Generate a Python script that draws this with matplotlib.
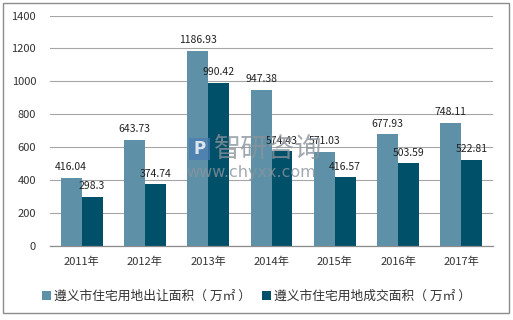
import matplotlib
matplotlib.use("Agg")
import matplotlib.pyplot as plt
import numpy as np
from matplotlib.patches import Rectangle

plt.rcParams['font.family'] = ['Noto Sans CJK SC', 'DejaVu Sans']

years = ["2011年", "2012年", "2013年", "2014年", "2015年", "2016年", "2017年"]
supply = [416.04, 643.73, 1186.93, 947.38, 571.03, 677.93, 748.11]
deal = [298.3, 374.74, 990.42, 574.43, 416.57, 503.59, 522.81]
series_names = ["遵义市住宅用地出让面积（ 万㎡ ）", "遵义市住宅用地成交面积（ 万㎡ ）"]
yticks = [0, 200, 400, 600, 800, 1000, 1200, 1400]

c_light = "#5E91A8"
c_dark = "#01506A"

fig = plt.figure(figsize=(5.13, 3.2), dpi=100)
ax = fig.add_axes([50/513, 1 - 246/320, (493-50)/513, (246-15.5)/320])

x = np.arange(len(years))
w = 0.33
b1 = ax.bar(x - w/2, supply, w, color=c_light, label=series_names[0], zorder=2)
b2 = ax.bar(x + w/2, deal, w, color=c_dark, label=series_names[1], zorder=2)

for rect, v in zip(b1, supply):
    ax.annotate(f"{v:g}", (rect.get_x() + rect.get_width()/2, v), xytext=(0, 4),
                textcoords="offset points", ha="center", va="bottom", fontsize=7.5,
                color="#222222", zorder=5)
for rect, v in zip(b2, deal):
    ax.annotate(f"{v:g}", (rect.get_x() + rect.get_width()/2, v), xytext=(0, 4),
                textcoords="offset points", ha="center", va="bottom", fontsize=7.5,
                color="#222222", zorder=5)

ax.set_xlim(-0.5, 6.5)
ax.set_ylim(0, 1400)
ax.set_yticks(yticks)
ax.set_yticklabels([str(t) for t in yticks], fontsize=8, color="#333333")
ax.set_xticks(x)
ax.set_xticklabels(years, fontsize=8, color="#333333")
ax.tick_params(axis="both", length=0)
ax.tick_params(axis="y", pad=10)
ax.tick_params(axis="x", pad=8)
ax.yaxis.grid(True, color="#A6A6A6", linewidth=0.8, zorder=0)
ax.set_axisbelow(True)
for s in ["top", "right", "left"]:
    ax.spines[s].set_visible(False)
ax.spines["bottom"].set_color("#8C8C8C")
ax.spines["bottom"].set_linewidth(0.9)

# watermark
fig.text(214/513, 1 - 149/320, "智研咨询", fontsize=19.5, color="#8A939B", alpha=0.8,
         ha="left", va="center", zorder=10)
fig.text(186/513, 1 - 172/320, "www.chyxx.com", fontsize=11.5, color="#8A939B", alpha=0.8,
         ha="left", va="center", zorder=10, family=["DejaVu Sans"])
fig.patches.append(Rectangle((189/513, 1 - 160/320), 21/513, 22/320, transform=fig.transFigure,
                             facecolor="#4A7DB3", alpha=0.7, zorder=10))
fig.text(199.5/513, 1 - 149/320, "P", fontsize=12, color="white", alpha=0.8, fontweight="bold",
         ha="center", va="center", zorder=11, family=["DejaVu Sans"])

leg = fig.legend(handles=[b1, b2], loc="center", bbox_to_anchor=(0.5, 1 - 296/320), ncol=2,
                 frameon=False, fontsize=9.2, handlelength=0.7, handleheight=0.7,
                 handletextpad=0.25, columnspacing=0.9)
for t in leg.get_texts():
    t.set_color("#333333")

fig.patches.append(Rectangle((3/513, 1 - 313/320), 506/513, 310/320, transform=fig.transFigure,
                             fill=False, edgecolor="#8C8C8C", linewidth=1))

fig.savefig("out.png", dpi=100)
